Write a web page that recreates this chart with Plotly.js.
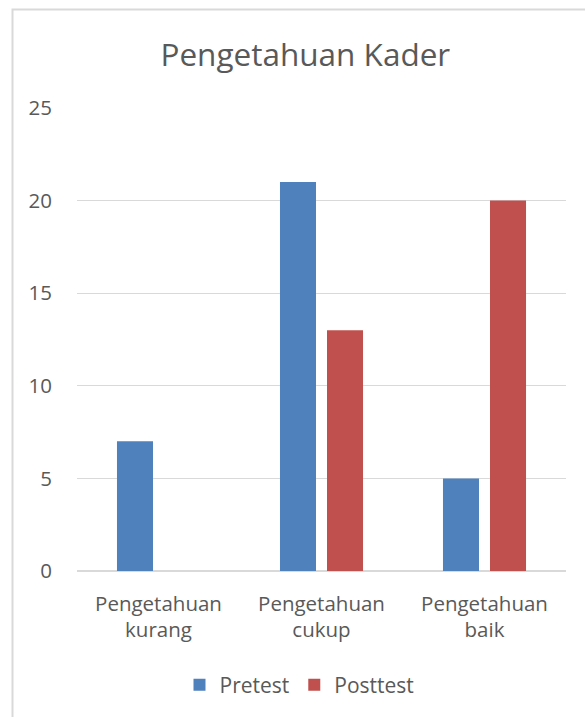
<!DOCTYPE html>
<html><head><meta charset="utf-8">
<script src="https://cdn.plot.ly/plotly-3.0.1.min.js"></script>
<style>html,body{margin:0;padding:0;background:#fff;}#chart{width:585px;height:717px;}</style>
</head><body><div id="chart"></div>
<script>
const categories = ["Pengetahuan<br>kurang", "Pengetahuan<br>cukup", "Pengetahuan<br>baik"];
const pretest = [7, 21, 5];
const posttest = [0, 13, 20];
const yTicks = [0, 5, 10, 15, 20, 25];

const font = "Open Sans, sans-serif";
const textColor = "#595959";

const data = [
  {type: "bar", name: "Pretest", x: categories, y: pretest, marker: {color: "#4F81BD"}, hoverinfo: "none"},
  {type: "bar", name: "Posttest", x: categories, y: posttest, marker: {color: "#C0504D"}, hoverinfo: "none"}
];

const W = 585, H = 717, L = 77, R = 19, T = 108, B = 146;
const pw = W - L - R, ph = H - T - B;

const layout = {
  width: W, height: H,
  margin: {l: L, r: R, t: T, b: B, pad: 0},
  paper_bgcolor: "#fff", plot_bgcolor: "#fff",
  font: {family: font, color: textColor, size: 20},
  title: {text: "Pengetahuan Kader", font: {family: font, size: 31.5, color: textColor}, x: 0.522, xanchor: "center", y: 1 - 55/H, yanchor: "middle"},
  barmode: "group", bargap: 0.423, bargroupgap: 0.234,
  xaxis: {type: "category", showgrid: false, zeroline: false, showline: false, ticks: "", ticklabelstandoff: 18, tickfont: {size: 20.5, color: textColor}, fixedrange: true},
  yaxis: {range: [0, 25], tickvals: yTicks, ticktext: yTicks.map(String), showgrid: true, gridcolor: "#D9D9D9", gridwidth: 1.3, zeroline: true, zerolinecolor: "#D9D9D9", zerolinewidth: 1.3, showline: false, ticks: "", ticklabelstandoff: 24, tickfont: {size: 20.5, color: textColor}, fixedrange: true},
  showlegend: true,
  legend: {orientation: "h", x: 0.455, xanchor: "center", y: -(685 - 571)/ph, yanchor: "middle", font: {size: 21, color: textColor}, traceorder: "normal", itemwidth: 30},
  shapes: [{type: "rect", xref: "paper", yref: "paper", x0: (12.5 - L)/pw, x1: 1.5, y0: -1, y1: (H - B - 9.5)/ph, line: {color: "#D9D9D9", width: 2}, fillcolor: "rgba(0,0,0,0)", layer: "below"}]
};

Plotly.newPlot("chart", data, layout, {displayModeBar: false, staticPlot: true});
</script></body></html>
